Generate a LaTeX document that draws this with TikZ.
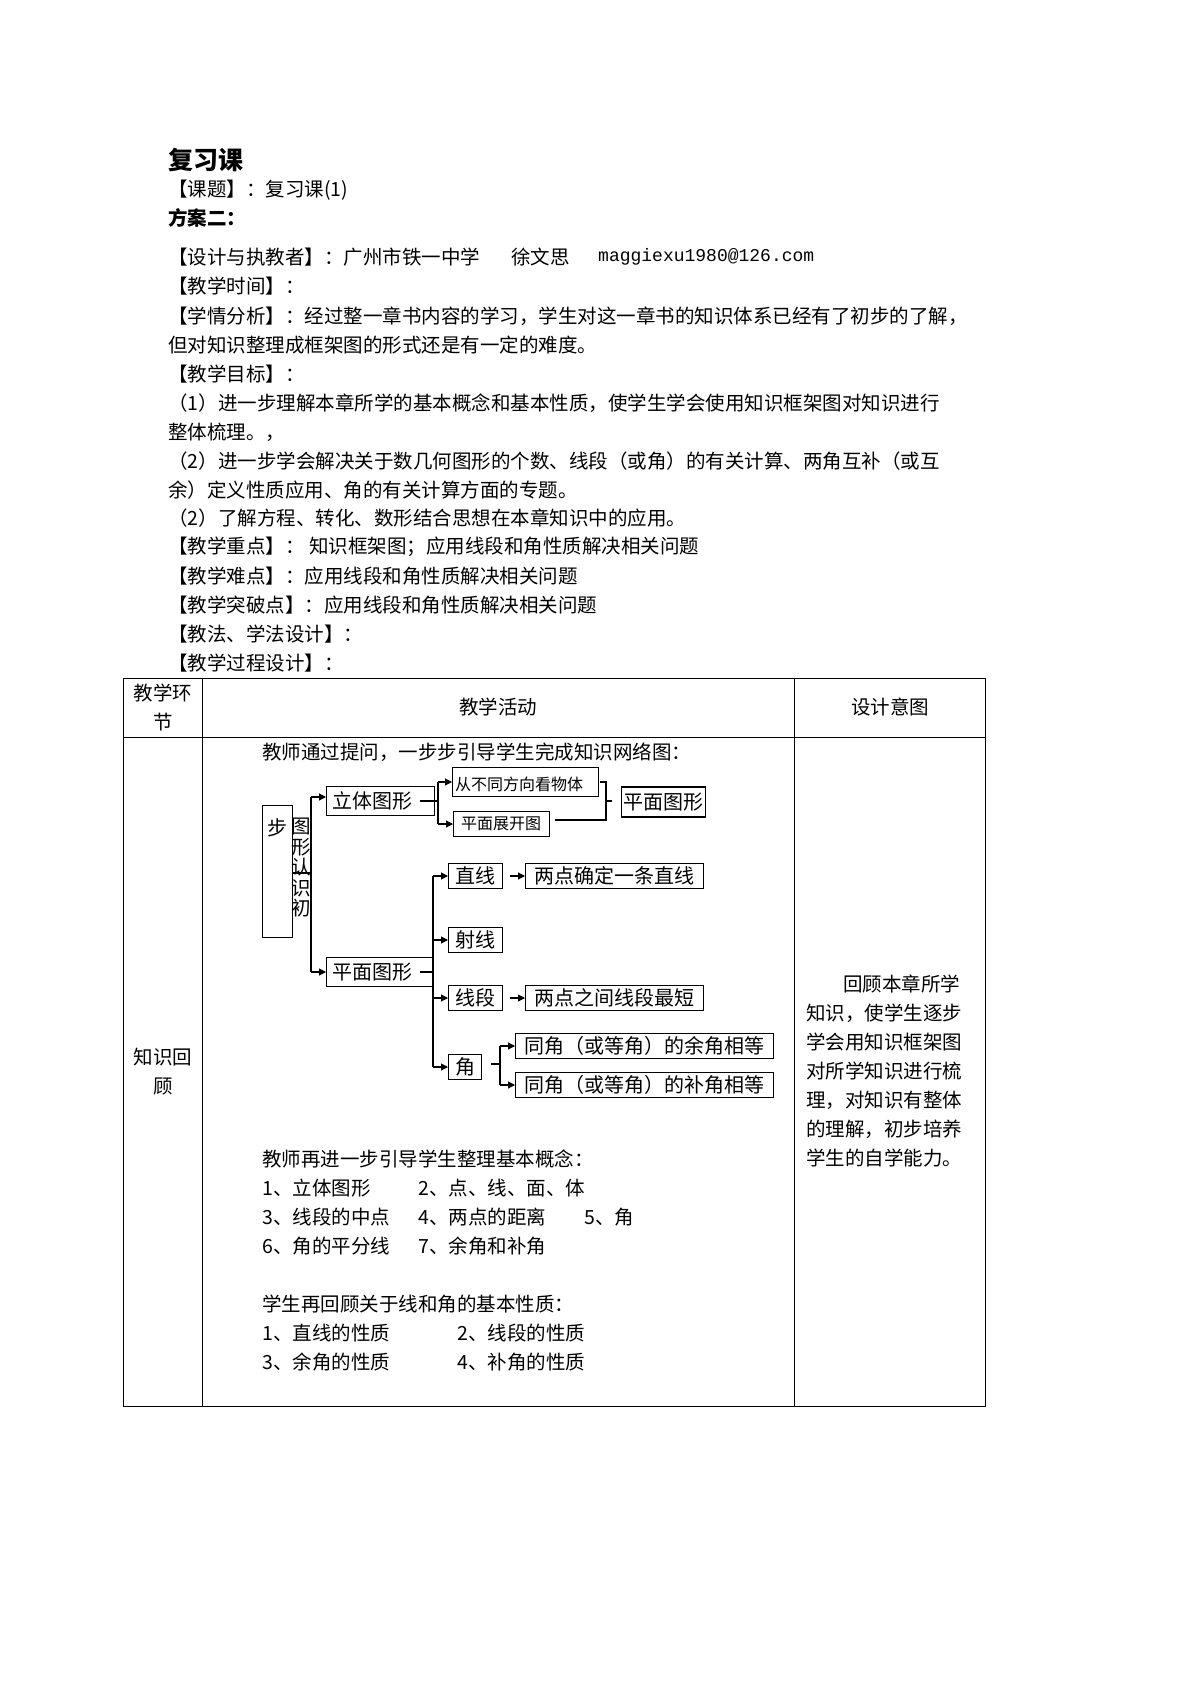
\documentclass[tikz,border=0pt]{standalone}
\usepackage{fontspec}
\setmainfont{Noto Sans CJK SC}
\newfontfamily\emailfont{Liberation Mono}
\usetikzlibrary{arrows.meta}
\begin{document}
\begin{tikzpicture}[x=1pt,y=-1pt,
  txt/.style={anchor=west,inner sep=0pt,font=\fontsize{19.5}{21}\selectfont},
  ctr/.style={inner sep=0pt,font=\fontsize{19.5}{21}\selectfont},
  btx/.style={inner sep=0pt,font=\fontsize{20}{21}\selectfont},
  bx/.style={draw,line width=1.1pt,inner sep=0pt},
  ln/.style={line width=1.1pt},
  ar/.style={line width=1.1pt,-{Triangle[length=7pt,width=7pt]}}]
\useasboundingbox[fill=white] (0,0) rectangle (1191,1684);
% heading
\node[txt,font=\fontsize{25}{27}\selectfont\bfseries] (t0) at (168,160) {复习课};
\node[txt] (t1) at (168,190) {【课题】：复习课(1)};
\node[txt,font=\fontsize{19.5}{21}\selectfont\bfseries] (t2) at (168,218) {方案二：};
\node[txt] (t3) at (168,257) {【设计与执教者】：广州市铁一中学};
\node[txt] (t3b) at (511,257) {徐文思};
\node[txt,font=\fontsize{18}{20}\emailfont] (t3c) at (598,257) {maggiexu1980@126.com};
\node[txt] (t4) at (168,286) {【教学时间】：};
\node[txt] (t5) at (168,316) {【学情分析】：经过整一章书内容的学习，学生对这一章书的知识体系已经有了初步的了解，};
\node[txt] (t6) at (168,345) {但对知识整理成框架图的形式还是有一定的难度。};
\node[txt] (t7) at (168,374) {【教学目标】：};
\node[txt] (t8) at (168,403) {（1）进一步理解本章所学的基本概念和基本性质，使学生学会使用知识框架图对知识进行};
\node[txt] (t9) at (168,432) {整体梳理。，};
\node[txt] (t10) at (168,461) {（2）进一步学会解决关于数几何图形的个数、线段（或角）的有关计算、两角互补（或互};
\node[txt] (t11) at (168,490) {余）定义性质应用、角的有关计算方面的专题。};
\node[txt] (t12) at (168,518) {（2）了解方程、转化、数形结合思想在本章知识中的应用。};
\node[txt] (t13) at (168,547) {【教学重点】：\ 知识框架图；应用线段和角性质解决相关问题};
\node[txt] (t14) at (168,576) {【教学难点】：应用线段和角性质解决相关问题};
\node[txt] (t15) at (168,605) {【教学突破点】：应用线段和角性质解决相关问题};
\node[txt] (t16) at (168,634) {【教法、学法设计】：};
\node[txt] (t17) at (168,663) {【教学过程设计】：};
% table
\draw[line width=1pt] (123,678) rectangle (985,1406);
\draw[line width=1pt] (123,737) -- (985,737);
\draw[line width=1pt] (202,678) -- (202,1406);
\draw[line width=1pt] (794,678) -- (794,1406);
\node[ctr] (h1a) at (163,693) {教学环};
\node[ctr] (h1b) at (163,722) {节};
\node[ctr] (h2) at (498,707) {教学活动};
\node[ctr] (h3) at (890,707) {设计意图};
\node[ctr] (c1a) at (163,1057) {知识回};
\node[ctr] (c1b) at (163,1086) {顾};
\node[txt] (r1) at (843,984) {回顾本章所学};
\node[txt] (r2) at (806,1013) {知识，使学生逐步};
\node[txt] (r3) at (806,1042) {学会用知识框架图};
\node[txt] (r4) at (806,1071) {对所学知识进行梳};
\node[txt] (r5) at (806,1100) {理，对知识有整体};
\node[txt] (r6) at (806,1129) {的理解，初步培养};
\node[txt] (r7) at (806,1158) {学生的自学能力。};
\node[txt] (m0) at (262,752) {教师通过提问，一步步引导学生完成知识网络图：};
% diagram
\node[bx,minimum width=30pt,minimum height=132pt,anchor=north west] (bu) at (262,805) {};
\node[btx] (butxt) at (277,828) {步};
\node[inner sep=0pt,align=center,font=\fontsize{19.5}{20.5}\selectfont] (vt) at (301,868) {图\\形\\认\\识\\初};
\coordinate (tr1) at (311,873);
\draw[ln] (bu.east |- tr1) -- (tr1);
\node[bx,minimum width=108pt,minimum height=29pt,anchor=west] (lt) at (326,801) {};
\node[btx,anchor=west] (ltt) at (332,801) {立体图形};
\node[bx,minimum width=107pt,minimum height=29pt,anchor=west] (pm) at (326,972) {};
\node[btx,anchor=west] (pmt) at (332,972) {平面图形};
\draw[ln] (311,797) -- (311,972);
\draw[ar] (311,797) -- (lt.west |- 0,797);
\draw[ar] (311,972) -- (pm.west);
% 3D branch
\node[bx,minimum width=146pt,minimum height=29pt,anchor=west] (cb) at (452,782) {};
\node[txt,font=\fontsize{16}{17}\selectfont] (cbt) at (455,784) {从不同方向看物体};
\node[bx,minimum width=96pt,minimum height=25pt,anchor=west] (zk) at (453,824) {};
\node[txt,font=\fontsize{16}{17}\selectfont] (zkt) at (461,824) {平面展开图};
\draw[ln] (420,801) -- (438,801);
\draw[ln] (438,782) -- (438,824);
\draw[ar] (438,782) -- (cb.west);
\draw[ar] (438,824) -- (zk.west);
\node[bx,minimum width=84pt,minimum height=30pt,anchor=west] (pm2) at (621,802) {};
\node[btx,anchor=west] (pm2t) at (623,802) {平面图形};
\draw[ln] (600,782) -- (606,782) -- (606,820) -- (555,820);
\draw[ln] (606,801) -- (612,801);
% plane branch
\draw[ln] (420,972) -- (433,972);
\draw[ln] (433,876) -- (433,1067);
\node[bx,minimum width=54pt,minimum height=25pt,anchor=west] (zx) at (448,876) {};
\node[btx] (zxt) at (zx.center) {直线};
\node[bx,minimum width=54pt,minimum height=25pt,anchor=west] (sx) at (448,940) {};
\node[btx] (sxt) at (sx.center) {射线};
\node[bx,minimum width=54pt,minimum height=25pt,anchor=west] (xd) at (448,998) {};
\node[btx] (xdt) at (xd.center) {线段};
\node[bx,minimum width=33pt,minimum height=25pt,anchor=west] (jiao) at (448,1067) {};
\node[btx] (jiaot) at (jiao.center) {角};
\draw[ar] (433,876) -- (zx.west);
\draw[ar] (433,940) -- (sx.west);
\draw[ar] (433,998) -- (xd.west);
\draw[ar] (433,1067) -- (jiao.west);
\node[bx,minimum width=178pt,minimum height=25pt,anchor=west] (zd) at (525,876) {};
\node[btx] (zdt) at (zd.center) {两点确定一条直线};
\node[bx,minimum width=178pt,minimum height=25pt,anchor=west] (zd2) at (525,998) {};
\node[btx] (zd2t) at (zd2.center) {两点之间线段最短};
\draw[ar] (510,876) -- (zd.west);
\draw[ar] (510,998) -- (zd2.west);
\node[bx,minimum width=258pt,minimum height=25pt,anchor=west] (yj) at (515,1046) {};
\node[btx] (yjt) at (yj.center) {同角（或等角）的余角相等};
\node[bx,minimum width=258pt,minimum height=25pt,anchor=west] (bj) at (515,1085) {};
\node[btx] (bjt) at (bj.center) {同角（或等角）的补角相等};
\draw[ln] (491,1064) -- (500,1064);
\draw[ln] (500,1046) -- (500,1085);
\draw[ar] (500,1046) -- (yj.west);
\draw[ar] (500,1085) -- (bj.west);
% lists
\node[txt] (l0) at (262,1159) {教师再进一步引导学生整理基本概念：};
\node[txt] (l1) at (262,1188) {1、立体图形};
\node[txt] (l2) at (418,1188) {2、点、线、面、体};
\node[txt] (l3) at (262,1217) {3、线段的中点};
\node[txt] (l4) at (418,1217) {4、两点的距离};
\node[txt] (l5) at (584,1217) {5、角};
\node[txt] (l6) at (262,1246) {6、角的平分线};
\node[txt] (l7) at (418,1246) {7、余角和补角};
\node[txt] (p0) at (262,1304) {学生再回顾关于线和角的基本性质：};
\node[txt] (p1) at (262,1333) {1、直线的性质};
\node[txt] (p2) at (457,1333) {2、线段的性质};
\node[txt] (p3) at (262,1362) {3、余角的性质};
\node[txt] (p4) at (457,1362) {4、补角的性质};
\end{tikzpicture}
\end{document}
